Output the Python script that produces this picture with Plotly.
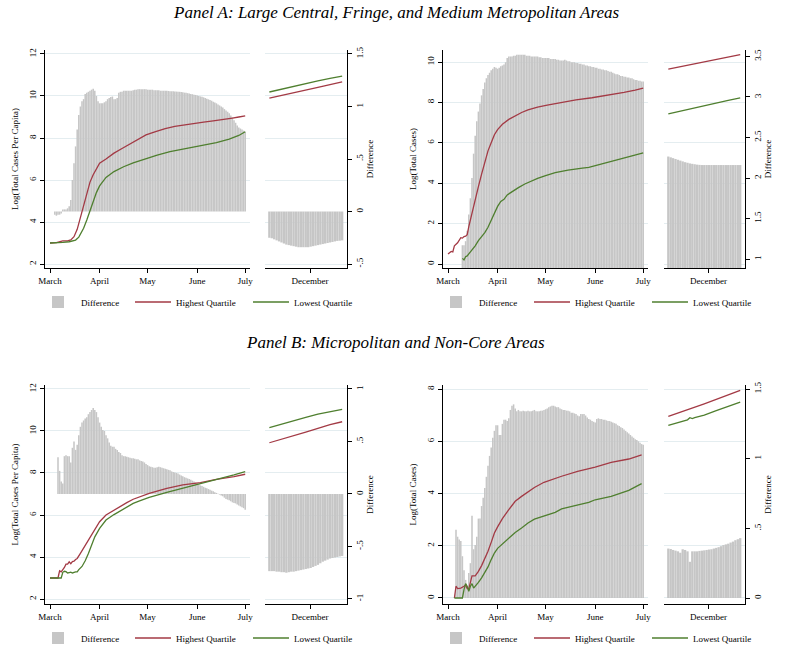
import pandas as pd
import plotly.graph_objects as go

W, H = 791, 647
FONT = "Liberation Serif"
RED = "#a33a45"
GREEN = "#4f7f2f"
GRAY = "#c6c6c6"
GRID = "#e4edf0"

# ---------------- data ----------------
MONTH_TICKS = ["2020-03-01", "2020-04-01", "2020-05-01", "2020-06-01", "2020-07-01"]
MONTH_LABELS = ["March", "April", "May", "June", "July"]
DEC_TICK = ["2020-12-17 18:00"]
DEC_LABEL = ["December"]
MAIN_START = "2020-03-01"
SIDE_START = "2020-12-01"
SERIES_NAMES = ["Difference", "Highest Quartile", "Lowest Quartile"]

# Panel A, left: Log(Total Cases Per Capita)
A1_BAR_START = "2020-03-04"
A1_BAR = [-0.03, -0.04, -0.03, -0.03, -0.02,
          0.02, 0.02, 0.02, 0.03, 0.05,
          0.11, 0.3, 0.46, 0.62, 0.78, 0.92, 1.0, 1.05, 1.07, 1.12,
          1.13, 1.14, 1.15, 1.16, 1.17, 1.15, 1.1, 1.05, 1.03, 1.03,
          1.03, 1.04, 1.05, 1.07, 1.08, 1.09, 1.095, 1.07, 1.07, 1.08,
          1.13, 1.14, 1.14, 1.15, 1.15, 1.15, 1.15, 1.15, 1.15, 1.155,
          1.16, 1.16, 1.165, 1.165, 1.165, 1.165, 1.165, 1.165, 1.16, 1.16,
          1.16, 1.16, 1.155, 1.155, 1.155, 1.155, 1.15, 1.15, 1.15, 1.15,
          1.15, 1.148, 1.146, 1.145, 1.144, 1.143, 1.142, 1.14, 1.14, 1.138,
          1.135, 1.132, 1.13, 1.127, 1.124, 1.12, 1.117, 1.113, 1.11, 1.105,
          1.1, 1.096, 1.092, 1.087, 1.08, 1.074, 1.068, 1.062, 1.055, 1.045,
          1.037, 1.03, 1.02, 1.01, 1.0, 0.99, 0.975, 0.962, 0.95, 0.935,
          0.915, 0.895, 0.87, 0.845, 0.82, 0.8, 0.79, 0.78, 0.77, 0.76]
A1_RED_DAYS = [0, 4, 8, 11, 13, 15, 17, 19, 21, 23, 25, 27, 29, 31, 35, 40, 45, 50, 55, 60,
               66, 72, 78, 84, 90, 96, 102, 108, 114, 118, 122]
A1_RED = [3.0, 3.02, 3.1, 3.1, 3.15, 3.3, 3.65, 4.2, 4.85, 5.4, 5.9, 6.25, 6.55, 6.8, 7.0, 7.28,
          7.5, 7.72, 7.95, 8.15, 8.3, 8.45, 8.55, 8.63, 8.7, 8.76, 8.82, 8.87, 8.95, 9.0, 9.05]
A1_GREEN_DAYS = [0, 4, 8, 12, 14, 16, 18, 20, 21, 23, 25, 27, 29, 31, 35, 40, 46, 52, 60, 67,
                 75, 84, 94, 104, 112, 118, 122]
A1_GREEN = [3.0, 3.0, 3.03, 3.06, 3.1, 3.14, 3.28, 3.55, 3.7, 4.1, 4.55, 5.05, 5.4, 5.72, 6.12,
            6.4, 6.63, 6.82, 7.03, 7.19, 7.35, 7.48, 7.62, 7.78, 7.95, 8.12, 8.3]
A1_SIDE_BAR = [-0.25, -0.255, -0.265, -0.275, -0.285, -0.295, -0.305, -0.315, -0.32, -0.325,
               -0.33, -0.335, -0.34, -0.34, -0.34, -0.34, -0.34, -0.335, -0.33, -0.325,
               -0.32, -0.315, -0.31, -0.305, -0.3, -0.295, -0.29, -0.285, -0.28, -0.278, -0.275]
SIDE_LINE_DAYS = [0, 5, 10, 15, 20, 25, 30]
A1_SIDE_RED = [9.9, 10.02, 10.15, 10.28, 10.41, 10.54, 10.67]
A1_SIDE_GREEN = [10.19, 10.33, 10.47, 10.6, 10.72, 10.84, 10.95]

# Panel A, right: Log(Total Cases)
A2_BAR_START = "2020-03-10"
A2_BAR = [1.17, 1.17, 1.22, 1.35, 1.55, 1.75, 2.0, 2.3, 2.52, 2.7,
          2.82, 2.92, 3.02, 3.1, 3.18, 3.23, 3.27, 3.3, 3.33, 3.35,
          3.37, 3.36, 3.35, 3.36, 3.38, 3.39, 3.4, 3.43, 3.48, 3.5,
          3.5, 3.5, 3.51, 3.51, 3.52, 3.52, 3.52, 3.52, 3.52, 3.52,
          3.51, 3.51, 3.51, 3.5, 3.5, 3.5, 3.5, 3.5, 3.49, 3.49,
          3.48, 3.48, 3.48, 3.48, 3.48, 3.47, 3.47, 3.47, 3.47, 3.46,
          3.46, 3.45, 3.45, 3.45, 3.46, 3.45, 3.44, 3.44, 3.43, 3.43,
          3.43, 3.42, 3.42, 3.41, 3.41, 3.4, 3.4, 3.39, 3.39, 3.38,
          3.38, 3.37, 3.37, 3.36, 3.36, 3.35, 3.35, 3.34, 3.34, 3.33,
          3.33, 3.32, 3.31, 3.31, 3.3, 3.29, 3.28, 3.28, 3.27, 3.26,
          3.26, 3.25, 3.25, 3.24, 3.24, 3.23, 3.23, 3.22, 3.21, 3.21,
          3.2, 3.2, 3.19, 3.19]
A2_RED_DAYS = [0, 2, 3, 4, 6, 7, 8, 9, 10, 11, 12, 13, 15, 17, 19, 21, 23, 25, 27, 29, 31, 34,
               38, 42, 46, 50, 56, 62, 70, 80, 90, 100, 110, 117, 122]
A2_RED = [0.5, 0.62, 0.6, 0.9, 1.05, 1.2, 1.3, 1.28, 1.36, 1.38, 1.45, 1.85, 2.55, 3.2, 3.83,
          4.45, 5.05, 5.6, 6.0, 6.4, 6.65, 6.92, 7.16, 7.34, 7.5, 7.63, 7.77, 7.86, 7.98, 8.12,
          8.23, 8.35, 8.5, 8.61, 8.71]
A2_GREEN_DAYS = [9, 10, 11, 12, 13, 15, 17, 19, 21, 23, 25, 27, 29, 31, 33, 35, 37, 40, 44, 48,
                 52, 56, 61, 67, 75, 80, 84, 88, 92, 100, 108, 115, 122]
A2_GREEN = [0.28, 0.2, 0.36, 0.4, 0.5, 0.7, 0.9, 1.16, 1.36, 1.55, 1.82, 2.15, 2.55, 2.85, 3.1,
            3.2, 3.42, 3.58, 3.78, 3.96, 4.12, 4.24, 4.37, 4.52, 4.65, 4.72, 4.75, 4.78, 4.86,
            5.02, 5.2, 5.35, 5.5]
A2_SIDE_BAR = [2.265, 2.255, 2.245, 2.235, 2.225, 2.215, 2.205, 2.195, 2.188, 2.18,
               2.175, 2.17, 2.165, 2.162, 2.16, 2.16, 2.16, 2.16, 2.16, 2.16,
               2.16, 2.16, 2.16, 2.16, 2.16, 2.16, 2.16, 2.16, 2.16, 2.16, 2.16]
A2_SIDE_RED = [9.65, 9.77, 9.89, 10.0, 10.12, 10.24, 10.36]
A2_SIDE_GREEN = [7.43, 7.57, 7.71, 7.84, 7.97, 8.1, 8.22]

# Panel B, left: Log(Total Cases Per Capita)
B1_BAR_START = "2020-03-06"
B1_BAR = [0.35, 0.22, 0.12, 0.1, 0.36, 0.37, 0.36, 0.36, 0.3, 0.44,
          0.5, 0.42, 0.47, 0.56, 0.64, 0.68, 0.7, 0.72, 0.73, 0.76,
          0.78, 0.8, 0.82, 0.8, 0.78, 0.73, 0.68, 0.64, 0.61, 0.6,
          0.56, 0.53, 0.49, 0.46, 0.45, 0.45, 0.43, 0.42, 0.4, 0.39,
          0.37, 0.36, 0.36, 0.355, 0.35, 0.345, 0.34, 0.34, 0.335, 0.33,
          0.33, 0.32, 0.315, 0.31, 0.3, 0.285, 0.275, 0.265, 0.26, 0.255,
          0.25, 0.25, 0.255, 0.26, 0.255, 0.25, 0.245, 0.24, 0.235, 0.23,
          0.225, 0.215, 0.21, 0.205, 0.2, 0.195, 0.185, 0.175, 0.17, 0.16,
          0.155, 0.148, 0.142, 0.135, 0.127, 0.12, 0.11, 0.1, 0.09, 0.082,
          0.075, 0.068, 0.06, 0.054, 0.047, 0.04, 0.032, 0.025, 0.017, 0.01,
          0.002, -0.006, -0.014, -0.022, -0.035, -0.048, -0.054, -0.06, -0.07, -0.08,
          -0.085, -0.09, -0.1, -0.11, -0.118, -0.126, -0.135, -0.15]
B1_RED_DAYS = [0, 4, 5, 6, 7, 8, 9, 10, 11, 12, 13, 14, 15, 16, 17, 19, 21, 23, 25, 27, 29, 31,
               35, 40, 44, 48, 52, 56, 62, 73, 83, 94, 104, 115, 122]
B1_RED = [3.0, 3.0, 3.0, 3.34, 3.29, 3.4, 3.5, 3.66, 3.66, 3.77, 3.68, 3.78, 3.8, 3.88, 3.93,
          4.17, 4.42, 4.72, 4.96, 5.2, 5.44, 5.68, 6.0, 6.24, 6.43, 6.59, 6.75, 6.87, 7.03,
          7.27, 7.43, 7.54, 7.7, 7.83, 7.94]
B1_GREEN_DAYS = [0, 4, 7, 8, 9, 10, 11, 12, 13, 14, 15, 16, 17, 18, 20, 22, 24, 26, 28, 31, 35,
                 40, 44, 48, 52, 56, 62, 73, 83, 94, 104, 115, 122]
B1_GREEN = [3.0, 3.0, 3.0, 3.27, 3.32, 3.3, 3.24, 3.26, 3.28, 3.24, 3.28, 3.29, 3.29, 3.4, 3.55,
            3.82, 4.17, 4.56, 4.96, 5.36, 5.76, 6.02, 6.2, 6.39, 6.55, 6.67, 6.84, 7.08, 7.27,
            7.48, 7.67, 7.91, 8.07]
B1_SIDE_BAR = [-0.735, -0.735, -0.735, -0.74, -0.74, -0.745, -0.745, -0.75, -0.745, -0.74,
               -0.74, -0.735, -0.73, -0.725, -0.72, -0.715, -0.71, -0.705, -0.695, -0.685,
               -0.675, -0.66, -0.645, -0.635, -0.625, -0.615, -0.61, -0.605, -0.6, -0.595, -0.59]
B1_SIDE_RED = [9.44, 9.6, 9.77, 9.95, 10.12, 10.3, 10.44]
B1_SIDE_GREEN = [10.16, 10.33, 10.5, 10.65, 10.8, 10.93, 11.03]

# Panel B, right: Log(Total Cases)
B2_BAR_START = "2020-03-06"
B2_BAR = [0.49, 0.44, 0.42, 0.41, 0.3, 0.2, 0.13, 0.08, 0.18, 0.25,
          0.59, 0.35, 0.38, 0.44, 0.57, 0.57, 0.66, 0.72, 0.79, 0.87,
          0.95, 1.02, 1.08, 1.15, 1.2, 1.24, 1.24, 1.17, 1.17, 1.25,
          1.28, 1.28, 1.27, 1.29, 1.35, 1.38, 1.39, 1.36, 1.34, 1.35,
          1.34, 1.34, 1.345, 1.34, 1.34, 1.345, 1.34, 1.34, 1.345, 1.35,
          1.34, 1.34, 1.34, 1.345, 1.345, 1.35, 1.355, 1.36, 1.37, 1.375,
          1.38, 1.38, 1.375, 1.37, 1.37, 1.36, 1.355, 1.35, 1.35, 1.345,
          1.345, 1.34, 1.33, 1.33, 1.325, 1.32, 1.31, 1.305, 1.32, 1.32,
          1.32, 1.31, 1.295, 1.285, 1.28, 1.27, 1.265, 1.26, 1.285, 1.29,
          1.285, 1.285, 1.28, 1.28, 1.275, 1.27, 1.27, 1.265, 1.26, 1.255,
          1.25, 1.24, 1.235, 1.225, 1.22, 1.21, 1.2, 1.19, 1.18, 1.17,
          1.16, 1.15, 1.14, 1.135, 1.125, 1.115, 1.105, 1.1]
B2_RED_DAYS = [4, 5, 6, 8, 10, 11, 12, 13, 14, 15, 17, 19, 21, 23, 25, 27, 29, 31, 34, 38, 42,
               46, 50, 54, 60, 67, 71, 81, 92, 102, 113, 121]
B2_RED = [0.0, 0.45, 0.36, 0.38, 0.45, 0.5, 0.36, 0.36, 0.6, 0.85, 0.85, 1.02, 1.24, 1.49, 1.79,
          2.13, 2.49, 2.72, 3.04, 3.38, 3.7, 3.89, 4.06, 4.23, 4.43, 4.59, 4.66, 4.85, 5.01,
          5.19, 5.32, 5.48]
B2_GREEN_DAYS = [4, 9, 10, 11, 12, 13, 14, 15, 16, 17, 19, 21, 23, 25, 27, 29, 31, 34, 38, 42,
                 46, 50, 54, 61, 67, 71, 78, 82, 88, 92, 102, 113, 121]
B2_GREEN = [0.0, 0.0, 0.32, 0.55, 0.45, 0.26, 0.45, 0.55, 0.38, 0.47, 0.6, 0.77, 0.96, 1.19,
            1.47, 1.72, 1.9, 2.06, 2.3, 2.51, 2.68, 2.87, 3.02, 3.15, 3.28, 3.41, 3.5, 3.57,
            3.66, 3.76, 3.89, 4.12, 4.38]
B2_SIDE_BAR = [0.355, 0.352, 0.345, 0.34, 0.335, 0.325, 0.35, 0.345, 0.335, 0.26,
               0.335, 0.335, 0.335, 0.338, 0.34, 0.342, 0.345, 0.348, 0.35, 0.355,
               0.36, 0.365, 0.372, 0.38, 0.385, 0.39, 0.398, 0.405, 0.415, 0.422, 0.43]
B2_SIDE_RED = [6.95, 7.1, 7.26, 7.43, 7.6, 7.78, 7.95]
B2_SIDE_GREEN_DAYS = [0, 5, 8, 9, 10, 11, 15, 20, 25, 30]
B2_SIDE_GREEN = [6.61, 6.74, 6.82, 6.9, 6.87, 6.9, 7.0, 7.17, 7.34, 7.5]

LEFT_TITLES = ["Log(Total Cases Per Capita)", "Log(Total Cases)",
               "Log(Total Cases Per Capita)", "Log(Total Cases)"]
LEFT_TICKS = [[2, 4, 6, 8, 10, 12], [0, 2, 4, 6, 8, 10], [2, 4, 6, 8, 10, 12], [0, 2, 4, 6, 8]]
RIGHT_TICKS = [[-0.5, 0, 0.5, 1, 1.5], [1, 1.5, 2, 2.5, 3, 3.5], [-1, -0.5, 0, 0.5, 1],
               [0, 0.5, 1, 1.5]]
RIGHT_LABELS = [["-.5", "0", ".5", "1", "1.5"], ["1", "1.5", "2", "2.5", "3", "3.5"],
                ["-1", "-.5", "0", ".5", "1"], ["0", ".5", "1", "1.5"]]
PANEL_TITLES = ["Panel A: Large Central, Fringe, and Medium Metropolitan Areas",
                "Panel B: Micropolitan and Non-Core Areas"]

# ---------------- layout geometry (pixels) ----------------
def dx(a, b):
    return [a / W, b / W]

def dy(top, bottom):
    return [1 - bottom / H, 1 - top / H]

panels = [
    dict(bar_start=A1_BAR_START, bar=A1_BAR, red=(A1_RED_DAYS, A1_RED), green=(A1_GREEN_DAYS, A1_GREEN),
         sbar=A1_SIDE_BAR, sred=(SIDE_LINE_DAYS, A1_SIDE_RED), sgreen=(SIDE_LINE_DAYS, A1_SIDE_GREEN),
         main=(45, 250), side=(265, 347), vert=(50, 268), lr=[1.81, 12.19], rr=[-0.538, 1.538],
         legx=(35, 130, 248), legy=302),
    dict(bar_start=A2_BAR_START, bar=A2_BAR, red=(A2_RED_DAYS, A2_RED), green=(A2_GREEN_DAYS, A2_GREEN),
         sbar=A2_SIDE_BAR, sred=(SIDE_LINE_DAYS, A2_SIDE_RED), sgreen=(SIDE_LINE_DAYS, A2_SIDE_GREEN),
         main=(443, 648), side=(664, 745), vert=(50, 268), lr=[-0.198, 10.594], rr=[0.889, 3.58],
         legx=(433, 529, 647), legy=302),
    dict(bar_start=B1_BAR_START, bar=B1_BAR, red=(B1_RED_DAYS, B1_RED), green=(B1_GREEN_DAYS, B1_GREEN),
         sbar=B1_SIDE_BAR, sred=(SIDE_LINE_DAYS, B1_SIDE_RED), sgreen=(SIDE_LINE_DAYS, B1_SIDE_GREEN),
         main=(45, 250), side=(265, 347), vert=(385, 604), lr=[1.762, 12.19], rr=[-1.048, 1.038],
         legx=(35, 130, 248), legy=638),
    dict(bar_start=B2_BAR_START, bar=B2_BAR, red=(B2_RED_DAYS, B2_RED), green=(B2_GREEN_DAYS, B2_GREEN),
         sbar=B2_SIDE_BAR, sred=(SIDE_LINE_DAYS, B2_SIDE_RED), sgreen=(B2_SIDE_GREEN_DAYS, B2_SIDE_GREEN),
         main=(443, 648), side=(664, 745), vert=(385, 604), lr=[-0.23, 8.153], rr=[-0.043, 1.529],
         legx=(433, 529, 647), legy=638),
]

MAIN_RANGE = ["2020-02-26 21:00", "2020-07-04 00:00"]
SIDE_RANGE = ["2020-11-29 04:48", "2021-01-02 00:00"]

tickfont = dict(family=FONT, size=9, color="black")
fig = go.Figure()
layout = {}

def main_dates(days):
    return pd.Timestamp(MAIN_START) + pd.to_timedelta(days, unit="D")

def side_dates(days):
    return pd.Timestamp(SIDE_START) + pd.to_timedelta(days, unit="D")

def legend_name(i):
    return "legend" if i == 1 else f"legend{i}"

for k, p in enumerate(panels):
    xm, xs = 2 * k + 1, 2 * k + 2
    yb, yl, ysb, ysl = 4 * k + 1, 4 * k + 2, 4 * k + 3, 4 * k + 4
    n = lambda a, i: a if i == 1 else f"{a}{i}"
    lgs = [legend_name(3 * k + j + 1) for j in range(3)]

    # main plot
    fig.add_trace(go.Bar(x=pd.date_range(p["bar_start"], periods=len(p["bar"]), freq="D"), y=p["bar"],
                         marker=dict(color=GRAY, line=dict(width=0)), name=SERIES_NAMES[0],
                         xaxis=n("x", xm), yaxis=n("y", yb), legend=lgs[0], showlegend=True))
    fig.add_trace(go.Scatter(x=main_dates(p["red"][0]), y=p["red"][1], mode="lines",
                             line=dict(color=RED, width=1.3), name=SERIES_NAMES[1],
                             xaxis=n("x", xm), yaxis=n("y", yl), legend=lgs[1]))
    fig.add_trace(go.Scatter(x=main_dates(p["green"][0]), y=p["green"][1], mode="lines",
                             line=dict(color=GREEN, width=1.3), name=SERIES_NAMES[2],
                             xaxis=n("x", xm), yaxis=n("y", yl), legend=lgs[2]))
    # side plot
    fig.add_trace(go.Bar(x=pd.date_range(SIDE_START, periods=len(p["sbar"]), freq="D"), y=p["sbar"],
                         marker=dict(color=GRAY, line=dict(width=0)), name=SERIES_NAMES[0],
                         xaxis=n("x", xs), yaxis=n("y", ysb), showlegend=False))
    fig.add_trace(go.Scatter(x=side_dates(p["sred"][0]), y=p["sred"][1], mode="lines",
                             line=dict(color=RED, width=1.3), name=SERIES_NAMES[1],
                             xaxis=n("x", xs), yaxis=n("y", ysl), showlegend=False))
    fig.add_trace(go.Scatter(x=side_dates(p["sgreen"][0]), y=p["sgreen"][1], mode="lines",
                             line=dict(color=GREEN, width=1.3), name=SERIES_NAMES[2],
                             xaxis=n("x", xs), yaxis=n("y", ysl), showlegend=False))

    vdom = dy(*p["vert"])
    common_x = dict(type="date", showline=True, linecolor="black", linewidth=1, ticks="outside",
                    ticklen=4, tickcolor="black", tickfont=tickfont, showgrid=False, zeroline=False,
                    fixedrange=True, automargin=False)
    layout[n("xaxis", xm)] = dict(common_x, domain=dx(*p["main"]), range=MAIN_RANGE,
                                  tickvals=MONTH_TICKS, ticktext=MONTH_LABELS, anchor=n("y", yb))
    layout[n("xaxis", xs)] = dict(common_x, domain=dx(*p["side"]), range=SIDE_RANGE,
                                  tickvals=DEC_TICK, ticktext=DEC_LABEL, anchor=n("y", ysb))
    # main bars axis (hidden, right scale)
    layout[n("yaxis", yb)] = dict(domain=vdom, range=p["rr"], anchor=n("x", xm), visible=False,
                                  showgrid=False, zeroline=False, automargin=False)
    # main lines axis (left, visible)
    layout[n("yaxis", yl)] = dict(overlaying=n("y", yb), anchor=n("x", xm), side="left",
                                  range=p["lr"], tickvals=LEFT_TICKS[k], tickangle=-90,
                                  showline=True, linecolor="black", linewidth=1, ticks="outside",
                                  ticklen=4, tickcolor="black", tickfont=tickfont,
                                  showgrid=True, gridcolor=GRID, gridwidth=1, zeroline=False,
                                  automargin=False,
                                  title=dict(text=LEFT_TITLES[k], font=dict(family=FONT, size=9),
                                             standoff=8))
    # side bars axis (right, visible)
    layout[n("yaxis", ysb)] = dict(domain=vdom, range=p["rr"], anchor=n("x", xs), side="right",
                                   tickvals=RIGHT_TICKS[k], ticktext=RIGHT_LABELS[k], tickangle=-90,
                                   showline=True, linecolor="black", linewidth=1, ticks="outside",
                                   ticklen=4, tickcolor="black", tickfont=tickfont,
                                   showgrid=False, zeroline=False, automargin=False,
                                   title=dict(text="Difference", font=dict(family=FONT, size=9),
                                              standoff=2))
    # side lines axis (hidden labels, left-scale gridlines)
    layout[n("yaxis", ysl)] = dict(overlaying=n("y", ysb), anchor=n("x", xs), side="left",
                                   range=p["lr"], tickvals=LEFT_TICKS[k], showticklabels=False,
                                   ticks="", showline=False, showgrid=True, gridcolor=GRID,
                                   gridwidth=1, zeroline=False, automargin=False)
    for j in range(3):
        layout[lgs[j]] = dict(x=p["legx"][j] / W, y=1 - p["legy"] / H, xanchor="left",
                              yanchor="middle", orientation="h",
                              font=dict(family=FONT, size=9, color="black"),
                              itemwidth=36, bgcolor="rgba(0,0,0,0)")

annotations = [
    dict(text=PANEL_TITLES[0], x=0.5, y=1 - 12 / H, xref="paper", yref="paper", showarrow=False,
         font=dict(family=FONT, size=17, color="black"), xanchor="center", yanchor="middle"),
    dict(text=PANEL_TITLES[1], x=0.5, y=1 - 342 / H, xref="paper", yref="paper", showarrow=False,
         font=dict(family=FONT, size=17, color="black"), xanchor="center", yanchor="middle"),
]
for a in annotations:
    a["text"] = "<i>" + a["text"] + "</i>"

fig.update_layout(**layout)
fig.update_layout(width=W, height=H, margin=dict(l=0, r=0, t=0, b=0, autoexpand=False),
                  paper_bgcolor="white", plot_bgcolor="white", bargap=0.04,
                  font=dict(family=FONT, color="black"), annotations=annotations,
                  hovermode=False)
fig.write_html("out.html", config={"displayModeBar": False, "staticPlot": True},
               post_script="document.body.style.margin='0';")
